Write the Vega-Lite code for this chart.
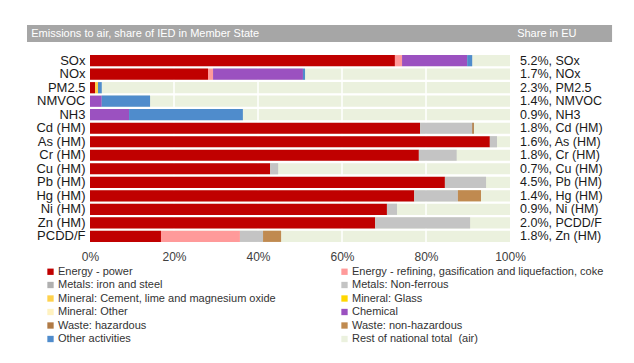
{
  "$schema": "https://vega.github.io/schema/vega-lite/v6.json",
  "background": "white",
  "padding": {"left": 27, "top": 25, "right": 10, "bottom": 5},
  "config": {
    "font": "Liberation Sans",
    "view": {"stroke": null},
    "concat": {"spacing": 11}
  },
  "datasets": {
    "rows": [
      {"cat": "SOx", "lab": "5.2%, SOx"},
      {"cat": "NOx", "lab": "1.7%, NOx"},
      {"cat": "PM2.5", "lab": "2.3%, PM2.5"},
      {"cat": "NMVOC", "lab": "1.4%, NMVOC"},
      {"cat": "NH3", "lab": "0.9%, NH3"},
      {"cat": "Cd (HM)", "lab": "1.8%, Cd (HM)"},
      {"cat": "As (HM)", "lab": "1.6%, As (HM)"},
      {"cat": "Cr (HM)", "lab": "1.8%, Cr (HM)"},
      {"cat": "Cu (HM)", "lab": "0.7%, Cu (HM)"},
      {"cat": "Pb (HM)", "lab": "4.5%, Pb (HM)"},
      {"cat": "Hg (HM)", "lab": "1.4%, Hg (HM)"},
      {"cat": "Ni (HM)", "lab": "0.9%, Ni (HM)"},
      {"cat": "Zn (HM)", "lab": "2.0%, PCDD/F"},
      {"cat": "PCDD/F", "lab": "1.8%, Zn (HM)"}
    ],
    "emis": [
      {"cat": "SOx", "sector": "Energy - power", "o": 1, "v": 72.6},
      {"cat": "SOx", "sector": "Energy - refining, gasification and liquefaction, coke", "o": 2, "v": 1.7},
      {"cat": "SOx", "sector": "Chemical", "o": 8, "v": 15.5},
      {"cat": "SOx", "sector": "Other activities", "o": 11, "v": 1.2},
      {"cat": "NOx", "sector": "Energy - power", "o": 1, "v": 28.1},
      {"cat": "NOx", "sector": "Energy - refining, gasification and liquefaction, coke", "o": 2, "v": 1.2},
      {"cat": "NOx", "sector": "Chemical", "o": 8, "v": 21.4},
      {"cat": "NOx", "sector": "Other activities", "o": 11, "v": 0.5},
      {"cat": "PM2.5", "sector": "Energy - power", "o": 1, "v": 1.2},
      {"cat": "PM2.5", "sector": "Mineral: Cement, lime and magnesium oxide", "o": 5, "v": 0.7},
      {"cat": "PM2.5", "sector": "Other activities", "o": 11, "v": 0.9},
      {"cat": "NMVOC", "sector": "Chemical", "o": 8, "v": 2.8},
      {"cat": "NMVOC", "sector": "Other activities", "o": 11, "v": 11.5},
      {"cat": "NH3", "sector": "Chemical", "o": 8, "v": 9.3},
      {"cat": "NH3", "sector": "Other activities", "o": 11, "v": 27.1},
      {"cat": "Cd (HM)", "sector": "Energy - power", "o": 1, "v": 78.6},
      {"cat": "Cd (HM)", "sector": "Metals: Non-ferrous", "o": 4, "v": 12.4},
      {"cat": "Cd (HM)", "sector": "Waste: hazardous", "o": 9, "v": 0.4},
      {"cat": "As (HM)", "sector": "Energy - power", "o": 1, "v": 95.2},
      {"cat": "As (HM)", "sector": "Metals: Non-ferrous", "o": 4, "v": 1.7},
      {"cat": "Cr (HM)", "sector": "Energy - power", "o": 1, "v": 78.3},
      {"cat": "Cr (HM)", "sector": "Metals: Non-ferrous", "o": 4, "v": 9.0},
      {"cat": "Cu (HM)", "sector": "Energy - power", "o": 1, "v": 42.9},
      {"cat": "Cu (HM)", "sector": "Metals: Non-ferrous", "o": 4, "v": 1.9},
      {"cat": "Pb (HM)", "sector": "Energy - power", "o": 1, "v": 84.5},
      {"cat": "Pb (HM)", "sector": "Metals: Non-ferrous", "o": 4, "v": 9.8},
      {"cat": "Hg (HM)", "sector": "Energy - power", "o": 1, "v": 77.2},
      {"cat": "Hg (HM)", "sector": "Metals: Non-ferrous", "o": 4, "v": 10.4},
      {"cat": "Hg (HM)", "sector": "Waste: non-hazardous", "o": 10, "v": 5.5},
      {"cat": "Ni (HM)", "sector": "Energy - power", "o": 1, "v": 70.7},
      {"cat": "Ni (HM)", "sector": "Metals: Non-ferrous", "o": 4, "v": 2.4},
      {"cat": "Zn (HM)", "sector": "Energy - power", "o": 1, "v": 67.9},
      {"cat": "Zn (HM)", "sector": "Metals: Non-ferrous", "o": 4, "v": 22.6},
      {"cat": "PCDD/F", "sector": "Energy - power", "o": 1, "v": 16.9},
      {"cat": "PCDD/F", "sector": "Energy - refining, gasification and liquefaction, coke", "o": 2, "v": 18.8},
      {"cat": "PCDD/F", "sector": "Metals: Non-ferrous", "o": 4, "v": 5.5},
      {"cat": "PCDD/F", "sector": "Waste: non-hazardous", "o": 10, "v": 4.3}
    ],
    "grid": [{"g": 20}, {"g": 40}, {"g": 60}, {"g": 80}],
    "head": [
      {"p": -0.14, "t": "Emissions to air, share of IED in Member State"},
      {"p": 1.017, "t": "Share in EU"}
    ]
  },
  "vconcat": [
    {
      "width": 420,
      "height": 17,
      "data": {"name": "head"},
      "layer": [
        {
          "data": {"values": [{"a": -0.15, "b": 1.243}]},
          "mark": {"type": "rect", "fill": "#a6a6a6", "clip": false},
          "encoding": {
            "x": {"field": "a", "type": "quantitative", "scale": {"domain": [0, 1]}, "axis": null},
            "x2": {"field": "b"}
          }
        },
        {
          "mark": {"type": "text", "align": "left", "baseline": "middle", "color": "#ffffff", "fontSize": 11},
          "encoding": {
            "x": {"field": "p", "type": "quantitative", "scale": {"domain": [0, 1]}, "axis": null},
            "text": {"field": "t"}
          }
        }
      ]
    },
    {
      "width": 420,
      "height": 189,
      "encoding": {
        "y": {
          "field": "cat",
          "type": "nominal",
          "sort": ["SOx", "NOx", "PM2.5", "NMVOC", "NH3", "Cd (HM)", "As (HM)", "Cr (HM)", "Cu (HM)", "Pb (HM)", "Hg (HM)", "Ni (HM)", "Zn (HM)", "PCDD/F"],
          "scale": {"paddingInner": 0.17, "paddingOuter": 0.08},
          "axis": {"title": null, "ticks": false, "domain": false, "labelFontSize": 13, "labelColor": "#1a1a1a", "labelPadding": 5}
        }
      },
      "layer": [
        {
          "data": {"name": "rows"},
          "mark": {"type": "bar"},
          "encoding": {
            "x": {"datum": 0, "type": "quantitative", "scale": {"domain": [0, 100]},
              "axis": {"title": null, "values": [0, 20, 40, 60, 80, 100], "labelExpr": "datum.value + '%'", "labelFlush": false, "ticks": false, "domain": false, "grid": false, "labelFontSize": 12, "labelColor": "#404040", "labelPadding": 8}},
            "x2": {"datum": 100},
            "color": {"datum": "Rest of national total \u00a0(air)"}
          }
        },
        {
          "data": {"name": "grid"},
          "mark": {"type": "rule", "color": "#ffffff", "strokeWidth": 1.5},
          "encoding": {
            "x": {"field": "g", "type": "quantitative"},
            "y": null
          }
        },
        {
          "data": {"name": "emis"},
          "mark": {"type": "bar"},
          "encoding": {
            "x": {"field": "v", "type": "quantitative", "stack": "zero"},
            "order": {"field": "o", "type": "quantitative", "sort": "ascending"},
            "color": {
              "field": "sector",
              "type": "nominal",
              "scale": {
                "domain": ["Energy - power", "Metals: iron and steel", "Mineral: Cement, lime and magnesium oxide", "Mineral: Other", "Waste: hazardous", "Other activities", "Energy - refining, gasification and liquefaction, coke", "Metals: Non-ferrous", "Mineral: Glass", "Chemical", "Waste: non-hazardous", "Rest of national total \u00a0(air)"],
                "range": ["#c00000", "#b0b0b0", "#ffd24d", "#fff2c0", "#b07a45", "#4f8ccc", "#ff9a9a", "#c4c4c4", "#ffd700", "#9b51c0", "#c08a50", "#ebf1de"]
              },
              "legend": {
                "title": null,
                "orient": "none",
                "legendX": -45,
                "legendY": 241,
                "direction": "vertical",
                "columns": 2,
                "symbolType": "square",
                "symbolSize": 40,
                "symbolStrokeWidth": 0,
                "labelFontSize": 11,
                "labelOffset": 2,
                "labelColor": "#333333",
                "rowPadding": 1.5,
                "columnPadding": 63,
                "labelLimit": 400
              }
            }
          }
        },
        {
          "data": {"name": "rows"},
          "mark": {"type": "text", "align": "left", "baseline": "middle", "dx": 10, "fontSize": 12.5, "color": "#1a1a1a"},
          "encoding": {
            "x": {"datum": 100, "type": "quantitative"},
            "text": {"field": "lab"}
          }
        }
      ]
    }
  ]
}
